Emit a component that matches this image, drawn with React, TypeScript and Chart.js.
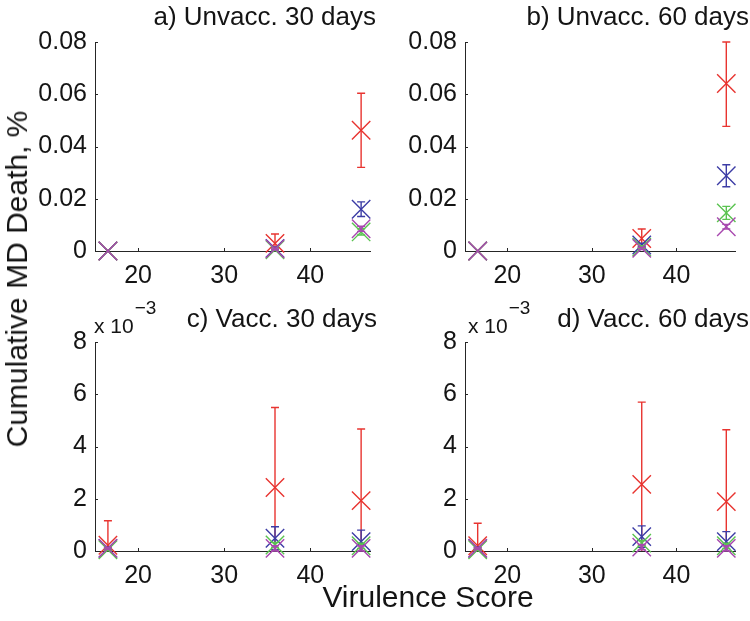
import React, { useEffect, useRef } from 'react';
import { Chart, registerables } from 'chart.js';

Chart.register(...registerables);

// ---------- data ----------
const VIRULENCE = [16.5, 35.9, 45.9];
const X_TICKS = [20, 30, 40];
const X_MIN = 15;
const X_MAX = 47;
const Y_TICKS_UNVACC = [0, 0.02, 0.04, 0.06, 0.08];
const Y_TICKS_VACC = [0, 0.002, 0.004, 0.006, 0.008];

// a) Unvacc. 30 days
const A_RED = [0, 0.0029, 0.0462];
const A_RED_ERR = [0, 0.0036, 0.0142];
const A_BLUE = [0, 0.001, 0.016];
const A_BLUE_ERR = [0, 0.0005, 0.0028];
const A_GREEN = [0, 0.0005, 0.0073];
const A_GREEN_ERR = [0, 0.0003, 0.0012];
const A_PURPLE = [0, 0.0008, 0.0085];
const A_PURPLE_ERR = [0, 0.0003, 0.001];

// b) Unvacc. 60 days
const B_RED = [0, 0.0048, 0.0641];
const B_RED_ERR = [0, 0.0036, 0.0164];
const B_BLUE = [0, 0.0023, 0.0288];
const B_BLUE_ERR = [0, 0.0007, 0.0042];
const B_GREEN = [0, 0.0015, 0.0146];
const B_GREEN_ERR = [0, 0.0005, 0.0025];
const B_PURPLE = [0, 0.001, 0.0093];
const B_PURPLE_ERR = [0, 0.0004, 0.0009];

// c) Vacc. 30 days
const C_RED = [0.00022, 0.00243, 0.00193];
const C_RED_ERR = [0.00094, 0.00306, 0.00274];
const C_BLUE = [0.0001, 0.00049, 0.00036];
const C_BLUE_ERR = [0.00005, 0.00044, 0.00044];
const C_GREEN = [0.00005, 0.00023, 0.0002];
const C_GREEN_ERR = [0.00003, 0.0001, 0.0001];
const C_PURPLE = [0.0001, 0.0001, 0.0001];
const C_PURPLE_ERR = [0.00003, 0.0001, 0.0001];

// d) Vacc. 60 days
const D_RED = [0.0002, 0.00255, 0.00189];
const D_RED_ERR = [0.00086, 0.00315, 0.00275];
const D_BLUE = [0.0001, 0.00055, 0.00036];
const D_BLUE_ERR = [0.00005, 0.00041, 0.00038];
const D_GREEN = [0.00005, 0.0003, 0.0002];
const D_GREEN_ERR = [0.00003, 0.0001, 0.0001];
const D_PURPLE = [0.0001, 0.00015, 0.0001];
const D_PURPLE_ERR = [0.00003, 0.0001, 0.0001];

const TITLES = ['a) Unvacc. 30 days', 'b) Unvacc. 60 days', 'c) Vacc. 30 days', 'd) Vacc. 60 days'];
const Y_LABEL = 'Cumulative MD Death, %';
const X_LABEL = 'Virulence Score';

// ---------- styles ----------
const FONT = '"Liberation Sans", Arial, Helvetica, sans-serif';
const COLOR_RED = 'rgb(232,52,48)';
const COLOR_BLUE = 'rgb(60,60,165)';
const COLOR_GREEN = 'rgb(90,195,80)';
const COLOR_PURPLE = 'rgb(168,72,175)';
const AXIS_COLOR = '#262626';
const TEXT_COLOR = '#141414';
const LINE_W = 1.4;

type SeriesDef = { values: number[]; errors: number[]; color: string; order: number };
type PanelDef = {
  left: number; top: number; width: number; height: number;
  area: { left: number; top: number; right: number; bottom: number };
  yTicks: number[];
  yMax: number;
  fmt: (v: number) => string;
  series: SeriesDef[];
};

const fmtUnvacc = (v: number) => (Math.abs(v) < 1e-12 ? '0' : v.toFixed(2));
const fmtVacc = (v: number) => String(Math.round(v * 1000));

const mk = (r: number[], re: number[], b: number[], be: number[], g: number[], ge: number[], p: number[], pe: number[]): SeriesDef[] => [
  { values: r, errors: re, color: COLOR_RED, order: 3 },
  { values: b, errors: be, color: COLOR_BLUE, order: 2 },
  { values: g, errors: ge, color: COLOR_GREEN, order: 1 },
  { values: p, errors: pe, color: COLOR_PURPLE, order: 0 },
];

const LEFT_AREA = { left: 95, top: 42, right: 380, bottom: 251 };
const RIGHT_AREA = { left: 80, top: 42, right: 363, bottom: 251 };

const PANELS: PanelDef[] = [
  { left: 0, top: 0, width: 385, height: 300, area: LEFT_AREA, yTicks: Y_TICKS_UNVACC, yMax: 0.08, fmt: fmtUnvacc,
    series: mk(A_RED, A_RED_ERR, A_BLUE, A_BLUE_ERR, A_GREEN, A_GREEN_ERR, A_PURPLE, A_PURPLE_ERR) },
  { left: 385, top: 0, width: 365, height: 300, area: RIGHT_AREA, yTicks: Y_TICKS_UNVACC, yMax: 0.08, fmt: fmtUnvacc,
    series: mk(B_RED, B_RED_ERR, B_BLUE, B_BLUE_ERR, B_GREEN, B_GREEN_ERR, B_PURPLE, B_PURPLE_ERR) },
  { left: 0, top: 300, width: 385, height: 300, area: LEFT_AREA, yTicks: Y_TICKS_VACC, yMax: 0.008, fmt: fmtVacc,
    series: mk(C_RED, C_RED_ERR, C_BLUE, C_BLUE_ERR, C_GREEN, C_GREEN_ERR, C_PURPLE, C_PURPLE_ERR) },
  { left: 385, top: 300, width: 365, height: 300, area: RIGHT_AREA, yTicks: Y_TICKS_VACC, yMax: 0.008, fmt: fmtVacc,
    series: mk(D_RED, D_RED_ERR, D_BLUE, D_BLUE_ERR, D_GREEN, D_GREEN_ERR, D_PURPLE, D_PURPLE_ERR) },
];

// error bars drawn per dataset through the chart's scales
const errorBarPlugin = {
  id: 'errorBars',
  afterDatasetDraw(chart: any, args: any) {
    const ds = chart.data.datasets[args.index];
    const errs: number[] = ds.errors || [];
    const xs = chart.scales.x;
    const ys = chart.scales.y;
    const ctx = chart.ctx;
    ctx.save();
    ctx.strokeStyle = ds.borderColor;
    ctx.lineWidth = LINE_W;
    ds.data.forEach((pt: any, i: number) => {
      const e = errs[i];
      if (!e) return;
      const x = xs.getPixelForValue(pt.x);
      const hiV = Math.min(pt.y + e, ys.max);
      const loRaw = pt.y - e;
      const loV = Math.max(loRaw, ys.min);
      const yHi = ys.getPixelForValue(hiV);
      const yLo = ys.getPixelForValue(loV);
      const cap = 4;
      ctx.beginPath();
      ctx.moveTo(x, yLo);
      ctx.lineTo(x, yHi);
      ctx.moveTo(x - cap, yHi);
      ctx.lineTo(x + cap, yHi);
      if (loRaw >= ys.min) {
        ctx.moveTo(x - cap, yLo);
        ctx.lineTo(x + cap, yLo);
      }
      ctx.stroke();
    });
    ctx.restore();
  },
};

// inward tick marks (MATLAB style)
const innerTickPlugin = {
  id: 'innerTicks',
  afterDraw(chart: any) {
    const { ctx, chartArea } = chart;
    const xs = chart.scales.x;
    const ys = chart.scales.y;
    ctx.save();
    ctx.strokeStyle = AXIS_COLOR;
    ctx.lineWidth = 1;
    ctx.beginPath();
    xs.ticks.forEach((t: any) => {
      const x = Math.round(xs.getPixelForValue(t.value)) + 0.5;
      ctx.moveTo(x, chartArea.bottom);
      ctx.lineTo(x, chartArea.bottom - 3);
    });
    ys.ticks.forEach((t: any) => {
      const y = Math.round(ys.getPixelForValue(t.value)) + 0.5;
      ctx.moveTo(chartArea.left, y);
      ctx.lineTo(chartArea.left + 3, y);
    });
    ctx.stroke();
    ctx.restore();
  },
};

function Panel({ def }: { def: PanelDef }) {
  const ref = useRef<HTMLCanvasElement | null>(null);
  useEffect(() => {
    if (!ref.current) return;
    const { width, height, area } = def;
    const chart = new Chart(ref.current, {
      type: 'scatter',
      data: {
        datasets: def.series.map((s) => ({
          data: VIRULENCE.map((x, i) => ({ x, y: s.values[i] })),
          errors: s.errors,
          pointStyle: 'crossRot',
          pointRadius: 13,
          pointHoverRadius: 13,
          borderColor: s.color,
          backgroundColor: s.color,
          borderWidth: LINE_W,
          pointBorderWidth: LINE_W,
          showLine: false,
          clip: false,
          order: s.order,
        })) as any,
      },
      options: {
        animation: false,
        responsive: false,
        maintainAspectRatio: false,
        events: [],
        layout: { padding: { top: area.top, right: width - area.right, left: 0, bottom: 0 } },
        plugins: { legend: { display: false }, tooltip: { enabled: false }, title: { display: false } },
        scales: {
          x: {
            type: 'linear',
            min: X_MIN,
            max: X_MAX,
            afterBuildTicks: (s: any) => { s.ticks = X_TICKS.map((v) => ({ value: v })); },
            afterFit: (s: any) => { s.height = height - area.bottom; },
            grid: { display: false, drawTicks: false },
            border: { display: true, color: AXIS_COLOR, width: 1 },
            ticks: { font: { family: FONT, size: 25 }, color: TEXT_COLOR, padding: 10, maxRotation: 0, autoSkip: false },
          },
          y: {
            type: 'linear',
            min: 0,
            max: def.yMax,
            afterBuildTicks: (s: any) => { s.ticks = def.yTicks.map((v) => ({ value: v })); },
            afterFit: (s: any) => { s.width = area.left; },
            grid: { display: false, drawTicks: false },
            border: { display: true, color: AXIS_COLOR, width: 1 },
            ticks: { font: { family: FONT, size: 25 }, color: TEXT_COLOR, padding: 8, autoSkip: false, callback: (v: any) => def.fmt(Number(v)) },
          },
        },
      } as any,
      plugins: [errorBarPlugin, innerTickPlugin],
    });
    return () => chart.destroy();
  }, [def]);
  return (
    <canvas
      ref={ref}
      width={def.width}
      height={def.height}
      style={{ position: 'absolute', left: def.left, top: def.top, width: def.width, height: def.height }}
    />
  );
}

const textBase: React.CSSProperties = {
  position: 'absolute',
  fontFamily: FONT,
  color: TEXT_COLOR,
  lineHeight: 1,
  whiteSpace: 'nowrap',
};

function Exponent({ left }: { left: number }) {
  return (
    <div style={{ ...textBase, fontSize: 21, left, top: 315 }}>
      x 10<span style={{ fontSize: 19, position: 'relative', top: -19, marginLeft: 1 }}>−3</span>
    </div>
  );
}

export default function App() {
  return (
    <div style={{ position: 'absolute', left: 0, top: 0, width: 750, height: 621, background: '#fff', overflow: 'hidden' }}>
      {PANELS.map((p, i) => (
        <Panel key={i} def={p} />
      ))}
      {/* titles */}
      <div style={{ ...textBase, fontSize: 26, left: 0, width: 376, top: 3, textAlign: 'right' }}>{TITLES[0]}</div>
      <div style={{ ...textBase, fontSize: 26, left: 385, width: 364, top: 3, textAlign: 'right' }}>{TITLES[1]}</div>
      <div style={{ ...textBase, fontSize: 26, left: 0, width: 377, top: 305, textAlign: 'right' }}>{TITLES[2]}</div>
      <div style={{ ...textBase, fontSize: 26, left: 385, width: 364, top: 305, textAlign: 'right' }}>{TITLES[3]}</div>
      {/* exponent labels */}
      <Exponent left={94} />
      <Exponent left={468} />
      {/* axis labels */}
      <div style={{ ...textBase, fontSize: 30, left: 17, top: 279, transform: 'translate(-50%, -50%) rotate(-90deg)' }}>{Y_LABEL}</div>
      <div style={{ ...textBase, fontSize: 30, left: 428, top: 582, transform: 'translateX(-50%)' }}>{X_LABEL}</div>
    </div>
  );
}
